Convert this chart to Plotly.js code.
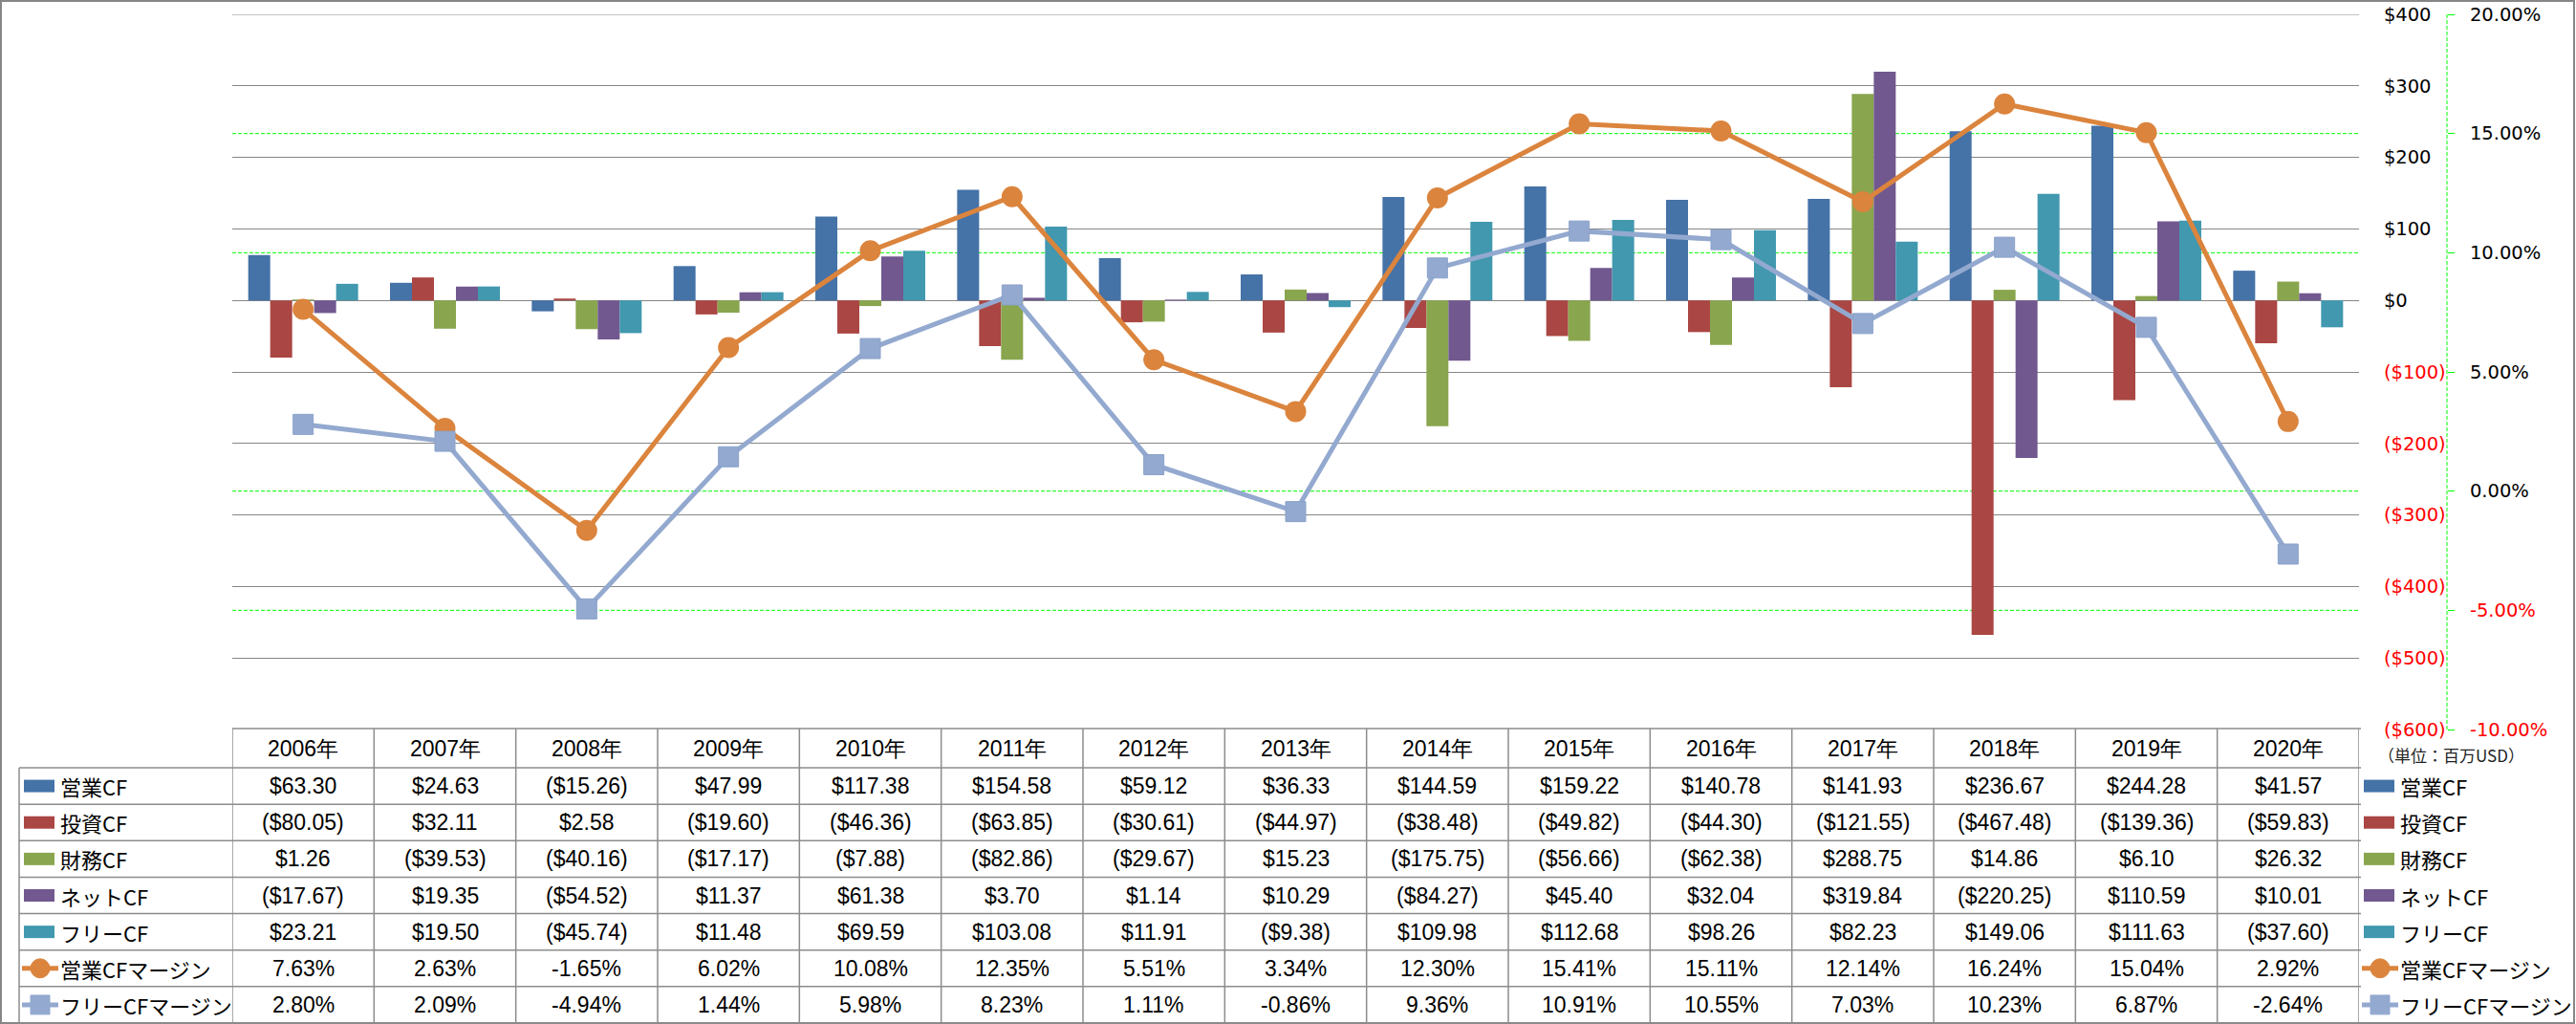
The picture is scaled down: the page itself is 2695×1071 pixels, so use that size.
<!DOCTYPE html>
<html><head><meta charset="utf-8">
<script src="https://cdn.plot.ly/plotly-3.0.1.min.js"></script>
<style>html,body{margin:0;padding:0;background:#fff;overflow:hidden}</style>
</head><body><div id="chart" style="width:2695px;height:1071px"></div>
<script>
// ---------------- data ----------------
const years = ['2006年','2007年','2008年','2009年','2010年','2011年','2012年','2013年','2014年','2015年','2016年','2017年','2018年','2019年','2020年'];
const seriesNames = ['営業CF','投資CF','財務CF','ネットCF','フリーCF','営業CFマージン','フリーCFマージン'];
const operatingCF = [63.30,24.63,-15.26,47.99,117.38,154.58,59.12,36.33,144.59,159.22,140.78,141.93,236.67,244.28,41.57];
const investingCF = [-80.05,32.11,2.58,-19.60,-46.36,-63.85,-30.61,-44.97,-38.48,-49.82,-44.30,-121.55,-467.48,-139.36,-59.83];
const financingCF = [1.26,-39.53,-40.16,-17.17,-7.88,-82.86,-29.67,15.23,-175.75,-56.66,-62.38,288.75,14.86,6.10,26.32];
const netCF = [-17.67,19.35,-54.52,11.37,61.38,3.70,1.14,10.29,-84.27,45.40,32.04,319.84,-220.25,110.59,10.01];
const freeCF = [23.21,19.50,-45.74,11.48,69.59,103.08,11.91,-9.38,109.98,112.68,98.26,82.23,149.06,111.63,-37.60];
const operatingMargin = [7.63,2.63,-1.65,6.02,10.08,12.35,5.51,3.34,12.30,15.41,15.11,12.14,16.24,15.04,2.92];
const freeMargin = [2.80,2.09,-4.94,1.44,5.98,8.23,1.11,-0.86,9.36,10.91,10.55,7.03,10.23,6.87,-2.64];
const usdTickVals = [400,300,200,100,0,-100,-200,-300,-400,-500,-600];
const usdTickLabels = ['$400','$300','$200','$100','$0','($100)','($200)','($300)','($400)','($500)','($600)'];
const pctTickVals = [20,15,10,5,0,-5,-10];
const pctTickLabels = ['20.00%','15.00%','10.00%','5.00%','0.00%','-5.00%','-10.00%'];
const unitNote = '（単位：百万USD）';

// ---------------- styles ----------------
const colors = ['#4572A7','#AA4643','#89A54E','#71588F','#4198AF','#DB843D','#93A9CF'];
const W = 2695, H = 1071, ML = 243, MR = 5, MT = 15, MB = 1;
const PW = W - ML - MR, PH = H - MT - MB;
const px = x => (x - ML) / PW;
const py = y => (H - MB - y) / PH;
const plotRight = 2468, plotBottom = 763, y2AxisX = 2560;
const headerTop = 762, headerBottom = 803, rowH = (1070 - 803) / 7;
const rowCenter = r => headerBottom + rowH * (r + 0.5);
const tableFont = {family: 'Liberation Sans, Arial, sans-serif', size: 23, color: '#000'};
const labelFont = {family: 'Noto Sans CJK JP, sans-serif', size: 22, color: '#000'};
const tickFont = {family: 'DejaVu Sans, Verdana, sans-serif', size: 19.5, color: '#000'};
const gridGray = '#868686', tableGray = '#8c8c8c';
const usdRange = [-600, 400], pctRange = [-10, 20];

const barSeries = [operatingCF, investingCF, financingCF, netCF, freeCF];
const lineSeries = [operatingMargin, freeMargin];

const fmtUSD = v => (v < 0 ? '($' + Math.abs(v).toFixed(2) + ')' : '$' + v.toFixed(2));
const fmtPct = v => v.toFixed(2) + '%';
const colorize = (t, v) => v < 0 ? '<span style="color:#FF0000">' + t + '</span>' : t;

// ---------------- traces ----------------
const traces = [];
barSeries.forEach((s, k) => traces.push({
  type: 'bar', name: seriesNames[k], x: years, y: s,
  marker: {color: colors[k], line: {width: 0}}, hoverinfo: 'skip'
}));
traces.push({
  type: 'scatter', mode: 'lines+markers', name: seriesNames[5], x: years, y: operatingMargin, yaxis: 'y2',
  line: {color: colors[5], width: 5}, marker: {symbol: 'circle', size: 22, color: colors[5]}, hoverinfo: 'skip'
});
traces.push({
  type: 'scatter', mode: 'lines+markers', name: seriesNames[6], x: years, y: freeMargin, yaxis: 'y2',
  line: {color: colors[6], width: 5}, marker: {symbol: 'square', size: 21, color: colors[6], line: {color: '#8aa2cb', width: 1}}, hoverinfo: 'skip'
});

// ---------------- shapes ----------------
const shapes = [];
// outer chart border
shapes.push({type: 'rect', xref: 'paper', yref: 'paper', x0: px(1), x1: px(W - 2), y0: py(1), y1: py(1070),
  line: {color: gridGray, width: 2}, fillcolor: 'rgba(0,0,0,0)', layer: 'below'});
// secondary gridlines (green dashed), hidden where they coincide with a primary gridline
const pctToUsd = v => usdRange[0] + (v - pctRange[0]) * (usdRange[1] - usdRange[0]) / (pctRange[1] - pctRange[0]);
pctTickVals.filter(v => !usdTickVals.some(u => Math.abs(pctToUsd(v) - u) < 1e-6)).forEach(v =>
  shapes.push({type: 'line', xref: 'paper', yref: 'y2', x0: 0, x1: px(plotRight), y0: v, y1: v,
    line: {color: '#00FF00', width: 1, dash: '4px,2px'}, layer: 'below'}));
// top primary gridline (at range edge)
shapes.push({type: 'line', xref: 'paper', yref: 'y', x0: 0, x1: px(plotRight), y0: usdTickVals[0], y1: usdTickVals[0],
  line: {color: gridGray, width: 1.2}, layer: 'below'});
// secondary axis line
shapes.push({type: 'line', xref: 'paper', yref: 'y2', x0: px(y2AxisX), x1: px(y2AxisX), y0: pctTickVals[pctTickVals.length - 1], y1: pctTickVals[0],
  line: {color: '#00FF00', width: 1, dash: '4px,2px'}});
// table horizontal lines
shapes.push({type: 'line', xref: 'paper', yref: 'paper', x0: px(ML), x1: px(plotRight + 2), y0: py(headerTop), y1: py(headerTop), line: {color: tableGray, width: 1.5}});
for (let k = 0; k <= 7; k++) {
  const y = headerBottom + rowH * k;
  shapes.push({type: 'line', xref: 'paper', yref: 'paper', x0: px(20), x1: px(plotRight + 2), y0: py(y), y1: py(y), line: {color: tableGray, width: 1.5}});
}
// table vertical lines
shapes.push({type: 'line', xref: 'paper', yref: 'paper', x0: px(20), x1: px(20), y0: py(headerBottom), y1: py(1070), line: {color: tableGray, width: 1.5}});
for (let i = 0; i <= years.length; i++) {
  shapes.push({type: 'line', xref: 'x', yref: 'paper', x0: i - 0.5, x1: i - 0.5, y0: py(headerTop), y1: py(1070), line: {color: tableGray, width: 1.5}});
}

// legend keys (left column and right legend)
function addKey(k, xStart, r) {
  const yc = rowCenter(r);
  if (k < 5) {
    shapes.push({type: 'rect', xref: 'paper', yref: 'paper', x0: px(xStart), x1: px(xStart + 32), y0: py(yc - 6.5), y1: py(yc + 6.5),
      fillcolor: colors[k], line: {width: 0}});
  } else {
    const xc = xStart + 17;
    shapes.push({type: 'line', xref: 'paper', yref: 'paper', x0: px(xStart - 2), x1: px(xStart + 36), y0: py(yc), y1: py(yc),
      line: {color: colors[k], width: 5}});
    shapes.push({type: k === 5 ? 'circle' : 'rect', xref: 'paper', yref: 'paper', x0: px(xc - 10), x1: px(xc + 10), y0: py(yc - 10), y1: py(yc + 10),
      fillcolor: colors[k], line: {color: colors[k], width: 1}});
  }
}
seriesNames.forEach((n, k) => { addKey(k, 25, k); addKey(k, 2473, k); });

// ---------------- annotations ----------------
const annotations = [];
years.forEach((yr, i) => annotations.push({xref: 'x', yref: 'paper', x: i, y: py((headerTop + headerBottom) / 2),
  text: yr, showarrow: false, font: tableFont, xanchor: 'center', yanchor: 'middle'}));
barSeries.forEach((s, r) => s.forEach((v, i) => annotations.push({xref: 'x', yref: 'paper', x: i, y: py(rowCenter(r)),
  text: fmtUSD(v), showarrow: false, font: tableFont, xanchor: 'center', yanchor: 'middle'})));
lineSeries.forEach((s, j) => s.forEach((v, i) => annotations.push({xref: 'x', yref: 'paper', x: i, y: py(rowCenter(5 + j)),
  text: fmtPct(v), showarrow: false, font: tableFont, xanchor: 'center', yanchor: 'middle'})));
seriesNames.forEach((n, k) => {
  annotations.push({xref: 'paper', yref: 'paper', x: px(61), y: py(rowCenter(k)), text: n, showarrow: false,
    font: labelFont, xanchor: 'left', yanchor: 'middle'});
  annotations.push({xref: 'paper', yref: 'paper', x: px(2509), y: py(rowCenter(k)), text: n, showarrow: false,
    font: labelFont, xanchor: 'left', yanchor: 'middle'});
});
annotations.push({xref: 'paper', yref: 'paper', x: px(2486), y: py(789), text: unitNote, showarrow: false,
  font: {family: 'Noto Sans CJK JP, sans-serif', size: 17, color: '#222'}, xanchor: 'left', yanchor: 'middle'});

// ---------------- layout ----------------
const layout = {
  width: W, height: H,
  margin: {l: ML, r: MR, t: MT, b: MB, pad: 0},
  paper_bgcolor: '#fff', plot_bgcolor: 'rgba(0,0,0,0)',
  showlegend: false, barmode: 'group', bargap: 0.225, bargroupgap: 0,
  xaxis: {type: 'category', domain: [0, px(plotRight)], range: [-0.5, years.length - 0.5],
    showgrid: false, zeroline: false, showline: false, showticklabels: false, ticks: ''},
  yaxis: {domain: [py(plotBottom), 1], range: usdRange, side: 'right',
    tickmode: 'array', tickvals: usdTickVals, ticktext: usdTickLabels.map((t, i) => colorize(t, usdTickVals[i])),
    ticks: 'outside', ticklen: 21, tickcolor: 'rgba(0,0,0,0)', tickfont: tickFont,
    showgrid: true, gridcolor: gridGray, gridwidth: 1, zeroline: false, showline: false},
  yaxis2: {overlaying: 'y', anchor: 'free', position: px(y2AxisX), side: 'right', range: pctRange,
    tickmode: 'array', tickvals: pctTickVals, ticktext: pctTickLabels.map((t, i) => colorize(t, pctTickVals[i])),
    ticks: 'outside', ticklen: 7, tickwidth: 1, tickcolor: '#00FF00', ticklabelstandoff: 12, tickfont: tickFont,
    showgrid: false, zeroline: false, showline: false},
  shapes: shapes, annotations: annotations,
  font: {family: 'DejaVu Sans, sans-serif'}
};

Plotly.newPlot('chart', traces, layout, {staticPlot: true, displayModeBar: false});
</script></body></html>
